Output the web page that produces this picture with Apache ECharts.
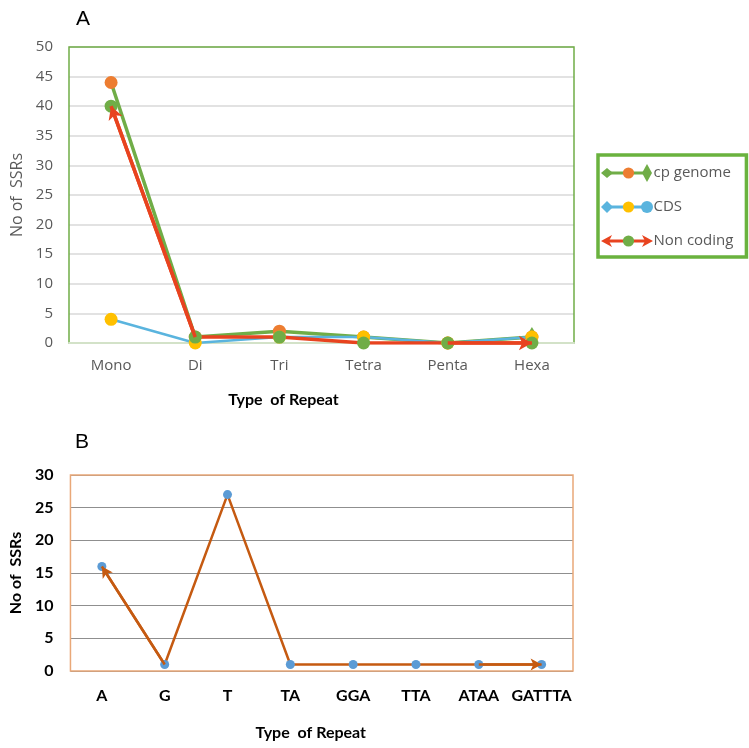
<!DOCTYPE html>
<html><head><meta charset="utf-8">
<script src="https://cdn.jsdelivr.net/npm/echarts@6/dist/echarts.min.js"></script>
<style>html,body{margin:0;padding:0;background:#fff}#c{width:749px;height:748px}</style>
</head><body><div id="c"></div>
<script>
// ---- Chart A data ----
const repeatTypesA = ['Mono', 'Di', 'Tri', 'Tetra', 'Penta', 'Hexa'];
const cpGenome = [44, 1, 2, 1, 0, 1];
const cds = [4, 0, 1, 1, 0, 1];
const nonCoding = [40, 1, 1, 0, 0, 0];
const yMinA = 0, yMaxA = 50, yStepA = 5;
// ---- Chart B data ----
const repeatTypesB = ['A', 'G', 'T', 'TA', 'GGA', 'TTA', 'ATAA', 'GATTTA'];
const ssrCountsB = [16, 1, 27, 1, 1, 1, 1, 1];
const yMinB = 0, yMaxB = 30, yStepB = 5;

const GREEN = '#70AD47', ORANGE = '#ED7D31', BLUE = '#5AB4DE', YELLOW = '#FFC000', RED = '#E8431F';
const BROWN = '#C55A11', BBLUE = '#5B9BD5';
const greyTxt = '#595959';

const chart = echarts.init(document.getElementById('c'), null, {renderer: 'canvas'});

function arrowLine(cats, vals, fromIdx, toIdx) {
  return [{coord: [cats[fromIdx], vals[fromIdx]]}, {coord: [cats[toIdx], vals[toIdx]]}];
}

const option = {
  animation: false,
  backgroundColor: '#fff',
  title: [
    {text: 'A', left: 71, top: 4, textStyle: {fontFamily: 'Liberation Sans', fontSize: 21, fontWeight: 'normal', color: '#000'}},
    {text: 'B', left: 70, top: 427, textStyle: {fontFamily: 'Liberation Sans', fontSize: 21, fontWeight: 'normal', color: '#000'}}
  ],
  legend: {
    data: ['cp genome', 'CDS', 'Non coding'],
    orient: 'vertical', left: 598, top: 155,
    padding: [8, 13, 6, 9],
    itemWidth: 40, itemHeight: 14, itemGap: 14,
    selectedMode: false,
    borderColor: '#6AB23E', borderWidth: 3.5,
    lineStyle: {width: 3},
    textStyle: {fontFamily: 'Open Sans', fontSize: 15, color: greyTxt, lineHeight: 20}
  },
  graphic: [
    {type: 'polygon', z: 100, silent: true, shape: {points: [[601,173],[607,168],[613,173],[607,178]]}, style: {fill: GREEN}},
    {type: 'polygon', z: 100, silent: true, shape: {points: [[642,173],[647,164],[652,173],[647,182]]}, style: {fill: GREEN}},
    {type: 'polygon', z: 100, silent: true, shape: {points: [[601,207],[607,201],[613,207],[607,213]]}, style: {fill: BLUE}},
    {type: 'circle', z: 100, silent: true, shape: {cx: 647, cy: 207, r: 6}, style: {fill: BLUE}},
    {type: 'polygon', z: 100, silent: true, shape: {points: [[601,241],[612,235],[609,241],[612,247]]}, style: {fill: RED}},
    {type: 'polygon', z: 100, silent: true, shape: {points: [[653,241],[642,235],[645,241],[642,247]]}, style: {fill: RED}}
  ],
  grid: [
    {left: 69, top: 47, width: 505, height: 296, show: true, z: 1, borderColor: GREEN, borderWidth: 1.5, backgroundColor: 'transparent'},
    {left: 67, top: 475, width: 506, height: 196, show: true, z: 1, borderColor: '#E9A878', borderWidth: 1.5, backgroundColor: 'transparent'}
  ],
  xAxis: [
    {
      type: 'category', gridIndex: 0, data: repeatTypesA, boundaryGap: true, z: 1.5,
      axisTick: {show: false},
      axisLine: {show: true, lineStyle: {color: '#d3e2c8', width: 2}},
      axisLabel: {color: greyTxt, fontFamily: 'Open Sans', fontSize: 15, margin: 15, interval: 0},
      name: 'Type  of Repeat', nameLocation: 'middle', nameGap: 49,
      nameTextStyle: {fontFamily: 'Lato', fontWeight: 'bold', fontSize: 16, color: '#000', padding: [0, 76, 0, 0]}
    },
    {
      type: 'category', gridIndex: 1, data: repeatTypesB, boundaryGap: true,
      axisTick: {show: false},
      axisLine: {show: false},
      axisLabel: {color: '#000', fontFamily: 'Lato', fontWeight: 'bold', fontSize: 16, margin: 17, interval: 0},
      name: 'Type  of Repeat', nameLocation: 'middle', nameGap: 54,
      nameTextStyle: {fontFamily: 'Lato', fontWeight: 'bold', fontSize: 16, color: '#000', padding: [0, 22, 0, 0]}
    }
  ],
  yAxis: [
    {
      type: 'value', gridIndex: 0, min: yMinA, max: yMaxA, interval: yStepA,
      axisLine: {show: false}, axisTick: {show: false},
      axisLabel: {color: greyTxt, fontFamily: 'Open Sans', fontSize: 15, margin: 16},
      splitLine: {lineStyle: {color: '#d9d9d9', width: 1.5}},
      name: 'No of  SSRs', nameLocation: 'middle', nameGap: 44,
      nameTextStyle: {fontFamily: 'Open Sans', fontSize: 16, color: greyTxt}
    },
    {
      type: 'value', gridIndex: 1, min: yMinB, max: yMaxB, interval: yStepB,
      axisLine: {show: false}, axisTick: {show: false},
      axisLabel: {color: '#000', fontFamily: 'Lato', fontWeight: 'bold', fontSize: 16, margin: 17},
      splitLine: {lineStyle: {color: '#8f8f8f', width: 1}},
      name: 'No of  SSRs', nameLocation: 'middle', nameGap: 45,
      nameTextStyle: {fontFamily: 'Lato', fontWeight: 'bold', fontSize: 16, color: '#000'}
    }
  ],
  series: [
    {
      name: 'cp genome', type: 'line', xAxisIndex: 0, yAxisIndex: 0, data: cpGenome,
      symbol: 'circle', symbolSize: 13,
      lineStyle: {color: GREEN, width: 3.5}, itemStyle: {color: ORANGE},
      markPoint: {
        silent: true, z: 1, symbol: 'diamond', symbolSize: [12, 20], label: {show: false},
        itemStyle: {color: GREEN},
        data: [{coord: [repeatTypesA[5], cpGenome[5]]}]
      }
    },
    {
      name: 'CDS', type: 'line', xAxisIndex: 0, yAxisIndex: 0, data: cds,
      symbol: 'circle', symbolSize: 13,
      lineStyle: {color: BLUE, width: 2.5}, itemStyle: {color: YELLOW}
    },
    {
      name: 'Non coding', type: 'line', xAxisIndex: 0, yAxisIndex: 0, data: nonCoding,
      symbol: 'circle', symbolSize: 13,
      lineStyle: {color: RED, width: 3.5}, itemStyle: {color: GREEN},
      markLine: {
        silent: true, animation: false, symbol: ['none', 'arrow'], symbolSize: [11, 13],
        label: {show: false}, lineStyle: {color: RED, width: 3.5, type: 'solid'},
        data: [arrowLine(repeatTypesA, nonCoding, 1, 0), arrowLine(repeatTypesA, nonCoding, 4, 5)]
      }
    },
    {
      name: 'SSR types', type: 'line', xAxisIndex: 1, yAxisIndex: 1, data: ssrCountsB,
      symbol: 'circle', symbolSize: 9,
      lineStyle: {color: BROWN, width: 2.5}, itemStyle: {color: BBLUE},
      markLine: {
        silent: true, animation: false, symbol: ['none', 'arrow'], symbolSize: [9, 11],
        label: {show: false}, lineStyle: {color: BROWN, width: 2.5, type: 'solid'},
        data: [arrowLine(repeatTypesB, ssrCountsB, 1, 0), arrowLine(repeatTypesB, ssrCountsB, 6, 7)]
      }
    }
  ]
};
chart.setOption(option);
</script>
</body></html>
